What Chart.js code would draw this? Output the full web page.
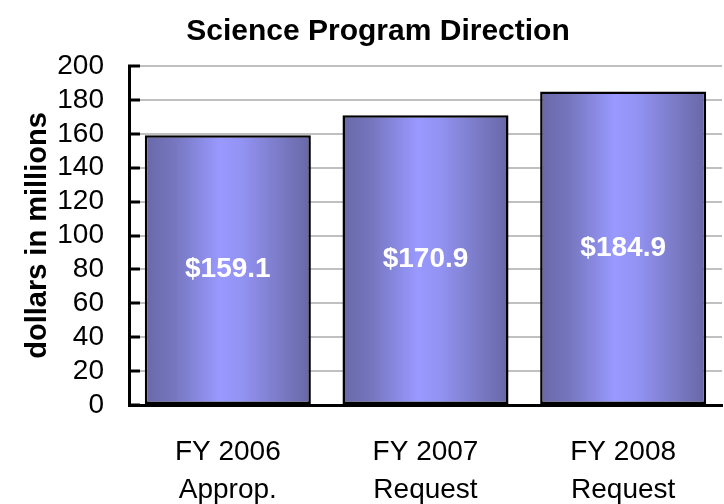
<!DOCTYPE html>
<html>
<head>
<meta charset="utf-8">
<script src="https://cdn.jsdelivr.net/npm/chart.js@4.4.1/dist/chart.umd.min.js"></script>
<style>
html,body{margin:0;padding:0;background:#fff;}
#wrap{width:724px;height:504px;}
</style>
</head>
<body>
<div id="wrap"><canvas id="c" width="724" height="504"></canvas></div>
<script>
const categories = [["FY 2006","Approp."],["FY 2007","Request"],["FY 2008","Request"]];
const values = [159.1, 170.9, 184.9];
const valueLabels = ["$159.1","$170.9","$184.9"];
const yTicks = [0,20,40,60,80,100,120,140,160,180,200];
const chartTitle = "Science Program Direction";
const yTitle = "dollars in millions";

const FONT = "'Liberation Sans', Arial, sans-serif";

function barGradient(ctx){
  const chart = ctx.chart;
  const xs = chart.scales && chart.scales.x;
  if(!xs || ctx.dataIndex === undefined) return '#8888dd';
  const cx = xs.getPixelForValue(ctx.dataIndex);
  const w = (xs.width / categories.length) * 0.84;
  const x0 = cx - w/2, x1 = cx + w/2;
  if(!isFinite(x0)) return '#8888dd';
  const g = chart.ctx.createLinearGradient(x0,0,x1,0);
  g.addColorStop(0,'#6868a8');
  g.addColorStop(0.18,'#7676bf');
  g.addColorStop(0.45,'#9999ff');
  g.addColorStop(0.58,'#9393f4');
  g.addColorStop(0.82,'#7a7ac6');
  g.addColorStop(1,'#6767a6');
  return g;
}

const valueLabelPlugin = {
  id:'valueLabels',
  afterDatasetsDraw(chart){
    const c = chart.ctx;
    const meta = chart.getDatasetMeta(0);
    c.save();
    c.fillStyle = '#ffffff';
    c.font = "bold 28px " + FONT;
    c.textAlign = 'center';
    c.textBaseline = 'middle';
    meta.data.forEach((el,i)=>{
      const p = el.getProps(['x','y','base'],true);
      c.fillText(valueLabels[i], p.x, (p.y + p.base)/2);
    });
    c.restore();
  }
};

const innerTicksPlugin = {
  id:'innerTicks',
  afterDraw(chart){
    const ys = chart.scales.y;
    const c = chart.ctx;
    c.save();
    c.strokeStyle = '#000';
    c.lineWidth = 3;
    yTicks.forEach(v=>{
      const py = Math.round(ys.getPixelForValue(v));
      c.beginPath();
      c.moveTo(ys.right - 1, py);
      c.lineTo(ys.right + 11, py);
      c.stroke();
    });
    c.restore();
  }
};

new Chart(document.getElementById('c'), {
  type:'bar',
  data:{
    labels: categories,
    datasets:[{
      data: values,
      backgroundColor: barGradient,
      borderColor:'#000',
      borderWidth:2.5,
      borderSkipped:false,
      categoryPercentage:1.0,
      barPercentage:0.84
    }]
  },
  options:{
    responsive:false,
    animation:false,
    devicePixelRatio:1,
    layout:{padding:{left:34,right:2,top:0,bottom:0}},
    plugins:{
      legend:{display:false},
      tooltip:{enabled:false},
      title:{
        display:true,
        text: chartTitle,
        color:'#000',
        font:{family:FONT,size:30,weight:'bold',lineHeight:1.2},
        padding:{top:14,bottom:16}
      }
    },
    scales:{
      x:{
        afterFit(scale){ scale.height = 99; },
        grid:{display:false,drawTicks:false},
        border:{display:true,color:'#000',width:3},
        ticks:{
          color:'#000',
          font:{family:FONT,size:28,lineHeight:1.36},
          padding:28,
          maxRotation:0,
          autoSkip:false
        }
      },
      y:{
        min:0,max:200,
        afterBuildTicks(scale){ scale.ticks = yTicks.map(v=>({value:v})); },
        afterFit(scale){ scale.width = 95; },
        grid:{
          color:(ctx)=> ctx.tick && ctx.tick.value === 0 ? 'rgba(0,0,0,0)' : '#c0c0c0',
          lineWidth:2,
          drawTicks:false
        },
        border:{display:true,color:'#000',width:3},
        ticks:{
          color:'#000',
          font:{family:FONT,size:28},
          padding:25,
          autoSkip:false
        },
        title:{
          display:true,
          text: yTitle,
          color:'#000',
          font:{family:FONT,size:29,weight:'bold',lineHeight:1.2},
          padding:{top:-13,bottom:0}
        }
      }
    }
  },
  plugins:[valueLabelPlugin, innerTicksPlugin]
});
</script>
</body>
</html>
